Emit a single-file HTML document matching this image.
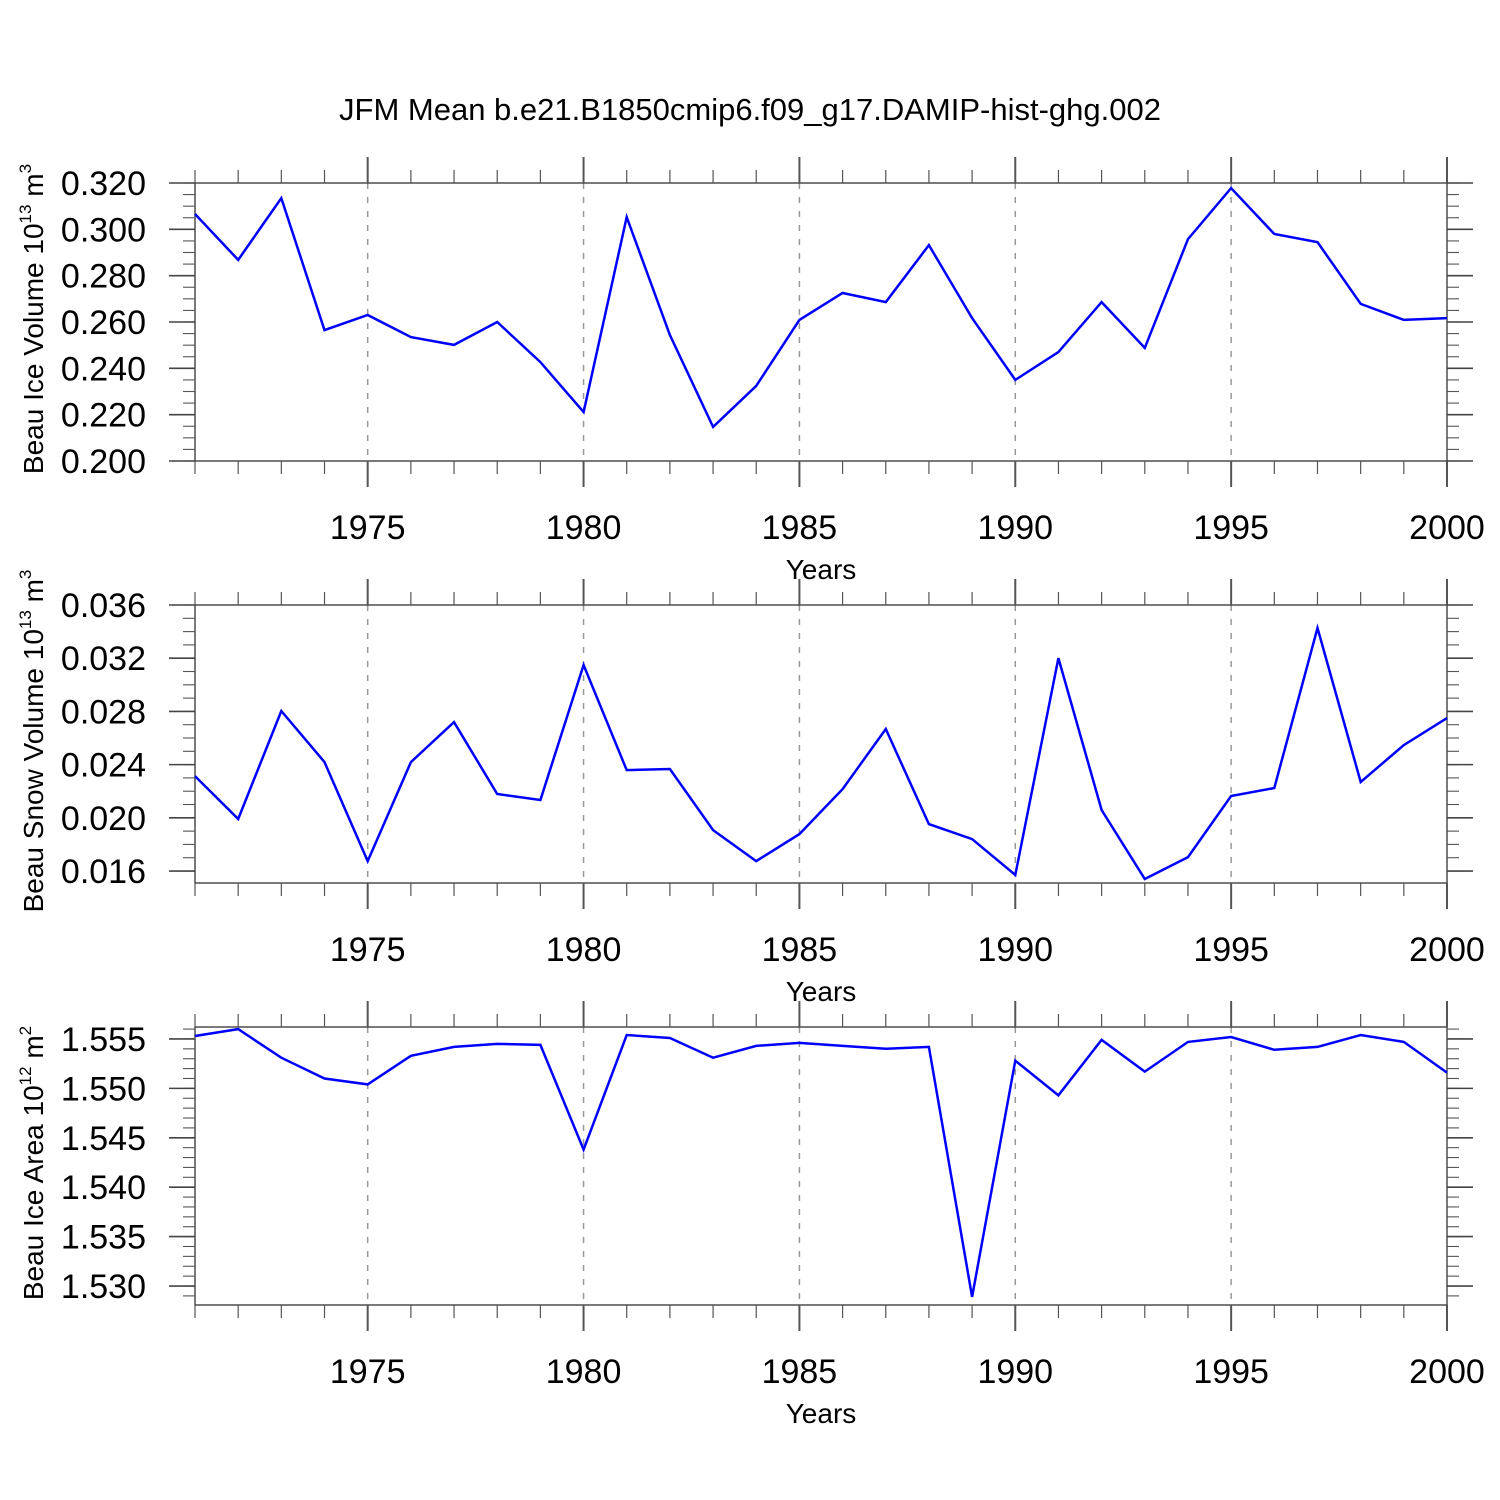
<!DOCTYPE html>
<html><head><meta charset="utf-8"><style>
html,body{margin:0;padding:0;background:#fff;}
svg{display:block;font-family:"Liberation Sans",Arial,sans-serif;}
</style></head><body>
<svg id="chart" width="1500" height="1500" viewBox="0 0 1500 1500">
<text x="750" y="120" font-size="31" text-anchor="middle">JFM Mean b.e21.B1850cmip6.f09_g17.DAMIP-hist-ghg.002</text>
</svg>
<script>
const years = [];
for (let y = 1971; y <= 2000; y++) years.push(y);
const iceVolume = [0.3066,0.2868,0.3135,0.2565,0.2630,0.2535,0.2501,0.2600,0.2427,0.2211,0.3053,0.2544,0.2147,0.2324,0.2609,0.2725,0.2686,0.2932,0.2617,0.2350,0.2470,0.2686,0.2488,0.2958,0.3178,0.2980,0.2945,0.2678,0.2609,0.2617];
const snowVolume = [0.02314,0.01991,0.02803,0.02419,0.01675,0.02419,0.0272,0.02179,0.02134,0.03149,0.02359,0.02367,0.01908,0.01675,0.01878,0.02216,0.02668,0.01953,0.0184,0.0157,0.03201,0.02059,0.0154,0.01705,0.02164,0.02224,0.03427,0.02269,0.02547,0.0275];
const iceArea = [1.5553,1.5560,1.5531,1.5510,1.5504,1.5533,1.5542,1.5545,1.5544,1.5438,1.5554,1.5551,1.5531,1.5543,1.5546,1.5543,1.5540,1.5542,1.5289,1.5528,1.5493,1.5549,1.5517,1.5547,1.5552,1.5539,1.5542,1.5554,1.5547,1.5516];
const xTickLabels = [1975,1980,1985,1990,1995,2000];
const iceVolumeTicks = ["0.200","0.220","0.240","0.260","0.280","0.300","0.320"];
const snowVolumeTicks = ["0.016","0.020","0.024","0.028","0.032","0.036"];
const iceAreaTicks = ["1.530","1.535","1.540","1.545","1.550","1.555"];

const NS = "http://www.w3.org/2000/svg";
const svg = document.getElementById("chart");
const X0 = 195, X1 = 1447, XMIN = 1971, XMAX = 2000;
function xs(v){ return X0 + (v - XMIN) / (XMAX - XMIN) * (X1 - X0); }
function mk(tag, attrs, parent){
  const e = document.createElementNS(NS, tag);
  for (const k in attrs) e.setAttribute(k, attrs[k]);
  (parent || svg).appendChild(e);
  return e;
}
const panels = [
  {name:"ice-volume", top:183, bot:461, ymin:0.200, ymax:0.320, ticks:iceVolumeTicks, minor:0.005, data:iceVolume, title:"Beau Ice Volume 10", sup:"13", unit:" m", usup:"3"},
  {name:"snow-volume", top:605, bot:883, ymin:0.01510, ymax:0.036, ticks:snowVolumeTicks, minor:0.001, data:snowVolume, title:"Beau Snow Volume 10", sup:"13", unit:" m", usup:"3"},
  {name:"ice-area", top:1027, bot:1305, ymin:1.52808, ymax:1.55621, ticks:iceAreaTicks, minor:0.001, data:iceArea, title:"Beau Ice Area 10", sup:"12", unit:" m", usup:"2"}
];
panels.forEach(p => {
  const g = mk("g", {});
  
  
  const ys = v => p.bot - (v - p.ymin) / (p.ymax - p.ymin) * (p.bot - p.top);
  xTickLabels.forEach(yr => {
    if (yr < XMAX) {
      const l = mk("line", {x1:xs(yr), x2:xs(yr), y1:p.top, y2:p.bot, stroke:"#999", "stroke-width":1.5, "stroke-dasharray":"6,8"}, g);
      
      
    }
  });
  const box = mk("rect", {x:X0, y:p.top, width:X1-X0, height:p.bot-p.top, fill:"none", stroke:"#333", "stroke-width":1.3}, g);
  
  
  years.forEach(yr => {
    const major = yr % 5 === 0;
    const len = major ? 26 : 13;
    const sw = major ? 2 : 1.2;
    mk("line", {x1:xs(yr), x2:xs(yr), y1:p.top-len, y2:p.top, stroke:"#555", "stroke-width":sw}, g);
    mk("line", {x1:xs(yr), x2:xs(yr), y1:p.bot, y2:p.bot+len, stroke:"#555", "stroke-width":sw}, g);
  });
  xTickLabels.forEach(yr => {
    const t = mk("text", {x:xs(yr), y:p.bot+78, "font-size":34, "text-anchor":"middle"}, g);
    t.textContent = yr;
    
    
  });
  const xt = mk("text", {x:821, y:p.bot+118, "font-size":28, "text-anchor":"middle"}, g);
  xt.textContent = "Years";
  
  
  const start = Math.ceil(p.ymin / p.minor - 1e-6) * p.minor;
  for (let i = 0; i < 200; i++) {
    const v = start + i * p.minor;
    if (v > p.ymax + 1e-9) break;
    const y = ys(v);
    mk("line", {x1:X0-12, x2:X0, y1:y, y2:y, stroke:"#555", "stroke-width":1.1}, g);
    mk("line", {x1:X1, x2:X1+12, y1:y, y2:y, stroke:"#555", "stroke-width":1.1}, g);
  }
  p.ticks.forEach(s => {
    const y = ys(parseFloat(s));
    mk("line", {x1:X0-26, x2:X0, y1:y, y2:y, stroke:"#444", "stroke-width":1.6}, g);
    mk("line", {x1:X1, x2:X1+26, y1:y, y2:y, stroke:"#444", "stroke-width":1.6}, g);
    const t = mk("text", {x:146, y:y+12, "font-size":34, "text-anchor":"end"}, g);
    t.textContent = s;
    
    
  });
  const cy = (p.top + p.bot) / 2 - 3;
  const yt = mk("text", {x:0, y:0, "font-size":28, "text-anchor":"middle", transform:`translate(43,${cy}) rotate(-90)`}, g);
  
  
  yt.innerHTML = `${p.title}<tspan dy="-12" font-size="17">${p.sup}</tspan><tspan dy="12">${p.unit}</tspan><tspan dy="-12" font-size="17">${p.usup}</tspan>`;
  const pts = p.data.map((v,i) => xs(years[i]).toFixed(1) + "," + ys(v).toFixed(1)).join(" ");
  const line = mk("polyline", {points:pts, fill:"none", stroke:"#0000ff", "stroke-width":2.5, "stroke-linejoin":"miter"}, g);
  
  
});
</script>
</body></html>
